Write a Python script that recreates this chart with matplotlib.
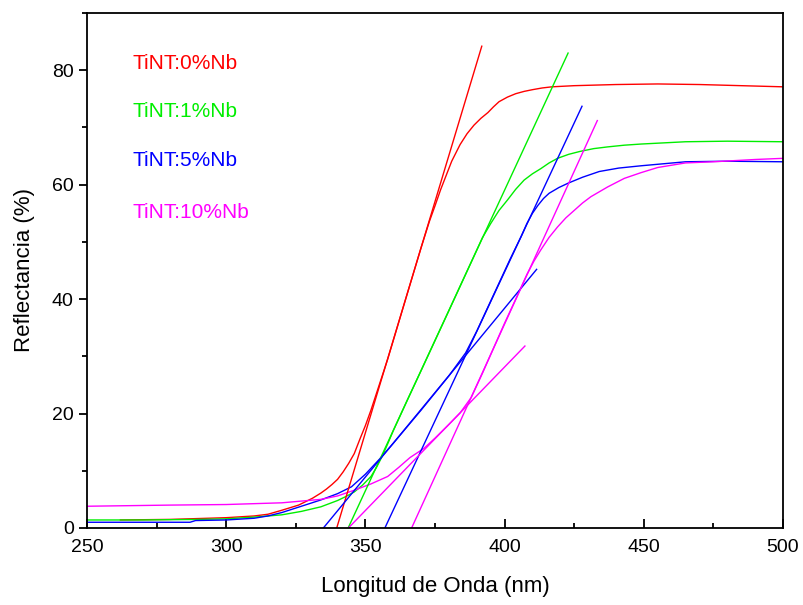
import matplotlib.pyplot as plt
from matplotlib.ticker import MultipleLocator

plt.rcParams['font.family'] = ['Liberation Sans', 'DejaVu Sans']

# reflectance curves
x_0 = [262, 280, 300, 310, 315, 320, 326, 331, 334, 336, 338, 340, 342, 344, 346, 348, 350, 352, 358,
       365, 370, 373, 375, 377, 379, 381, 384, 386.5, 389, 391.5, 394, 396, 398, 401, 404, 407, 410, 413.5, 417,
       425, 440, 455, 470, 485, 500]
r_0 = [1.4, 1.5, 1.8, 2.1, 2.4, 3.1, 4.0, 5.2, 6.1, 6.8, 7.6, 8.5, 9.8, 11.3, 13.0, 15.5, 17.9, 20.6, 29.5,
       40.9, 49.0, 53.6, 56.3, 59.1, 61.6, 64.1, 67.0, 68.9, 70.4, 71.6, 72.6, 73.6, 74.5, 75.3, 75.9, 76.3,
       76.6, 76.9, 77.1, 77.3, 77.5, 77.6, 77.5, 77.3, 77.1]

x_1 = [250, 270, 290, 300, 310, 320, 327, 334, 340, 343, 346, 349, 352, 354, 356, 358, 360, 365, 370,
       380, 392, 395, 398, 401, 404, 407, 410, 413, 416, 419, 423, 427, 432, 437, 443, 449, 465, 480, 500]
r_1 = [1.4, 1.4, 1.5, 1.6, 1.9, 2.3, 2.9, 3.7, 4.8, 5.5, 6.3, 7.5, 9.0, 10.6, 12.5, 14.7, 17.0, 22.3, 27.5,
       38.0, 50.7, 53.2, 55.5, 57.3, 59.2, 60.8, 61.9, 62.8, 63.8, 64.6, 65.3, 65.8, 66.3, 66.6, 66.9, 67.1,
       67.5, 67.6, 67.5]

x_5 = [250, 270, 287, 289, 300, 310, 315, 320, 327, 334, 340, 345, 350, 355, 360, 365, 370, 375,
       380, 386, 390, 394, 398, 402, 406, 408, 410, 412, 414, 416, 419.5, 423, 428, 434, 441, 449, 465, 480, 500]
r_5 = [1.0, 1.0, 1.0, 1.3, 1.4, 1.7, 2.1, 2.7, 3.8, 4.9, 6.0, 7.2, 9.4, 12.0, 14.8, 17.7, 20.6, 23.6,
       26.6, 30.6, 34.4, 38.6, 42.8, 47.0, 51.0, 53.2, 55.0, 56.4, 57.6, 58.5, 59.5, 60.3, 61.3, 62.3, 62.9,
       63.3, 64.0, 64.1, 64.0]

x_10 = [250, 280, 300, 320, 334, 340, 346, 352, 358, 362, 366, 371, 375, 380, 384, 388, 392, 396,
        400, 404, 408, 410.5, 413, 416, 419, 422, 425, 428, 431, 437, 443, 449, 455, 465, 475, 490, 500]
r_10 = [3.8, 4.0, 4.1, 4.4, 5.0, 5.6, 6.6, 7.7, 9.0, 10.6, 12.3, 13.9, 15.7, 18.1, 20.1, 22.8, 27.0, 31.4,
        35.8, 40.0, 44.3, 46.6, 48.6, 50.8, 52.6, 54.2, 55.5, 56.8, 57.9, 59.6, 61.1, 62.1, 63.0, 63.8, 64.0,
        64.4, 64.6]

# tangent lines (end points)
tan_0_x = [339.7, 391.8]
tan_0_y = [0, 84.2]
tan_1_x = [343.8, 422.8]
tan_1_y = [0, 83.0]
tan_5a_x = [357.0, 427.8]
tan_5a_y = [0, 73.7]
tan_5b_x = [334.9, 411.5]
tan_5b_y = [0, 45.2]
tan_10a_x = [366.6, 433.3]
tan_10a_y = [0, 71.2]
tan_10b_x = [343.9, 407.3]
tan_10b_y = [0, 31.8]

labels = ["TiNT:0%Nb", "TiNT:1%Nb", "TiNT:5%Nb", "TiNT:10%Nb"]
colors = ["#ff0000", "#00ee00", "#0000ff", "#ff00ff"]
label_y = [81.2, 72.7, 64.3, 55.2]

fig = plt.figure(figsize=(8.04, 6.05), dpi=100)
ax = fig.add_axes([0.1082, 0.1273, 0.8657, 0.8512])

lw = 1.0
ax.plot(x_0, r_0, color=colors[0], lw=lw)
ax.plot(x_1, r_1, color=colors[1], lw=lw)
ax.plot(x_5, r_5, color=colors[2], lw=lw)
ax.plot(x_10, r_10, color=colors[3], lw=lw)

ax.plot(tan_0_x, tan_0_y, color=colors[0], lw=lw)
ax.plot(tan_1_x, tan_1_y, color=colors[1], lw=lw)
ax.plot(tan_5a_x, tan_5a_y, color=colors[2], lw=lw)
ax.plot(tan_5b_x, tan_5b_y, color=colors[2], lw=lw)
ax.plot(tan_10a_x, tan_10a_y, color=colors[3], lw=lw)
ax.plot(tan_10b_x, tan_10b_y, color=colors[3], lw=lw)

for lab, c, yy in zip(labels, colors, label_y):
    ax.text(266.5, yy, lab, color=c, fontsize=15, va="center", ha="left")

ax.set_xlim(250, 500)
ax.set_ylim(0, 90)
ax.xaxis.set_major_locator(MultipleLocator(50))
ax.xaxis.set_minor_locator(MultipleLocator(25))
ax.yaxis.set_major_locator(MultipleLocator(20))
ax.yaxis.set_minor_locator(MultipleLocator(10))

ax.tick_params(axis="x", which="major", direction="in", length=6.5, width=1.3, labelsize=14, pad=8)
ax.tick_params(axis="x", which="minor", direction="in", length=3.6, width=1.3)
ax.tick_params(axis="y", which="major", direction="out", length=5.5, width=1.3, labelsize=14, pad=4)
ax.tick_params(axis="y", which="minor", direction="out", length=3.6, width=1.3)
for s in ax.spines.values():
    s.set_linewidth(1.3)

ax.set_xlabel("Longitud de Onda (nm)", fontsize=16, labelpad=14)
ax.set_ylabel("Reflectancia (%)", fontsize=16, labelpad=12)

plt.savefig("out.png", dpi=100)
